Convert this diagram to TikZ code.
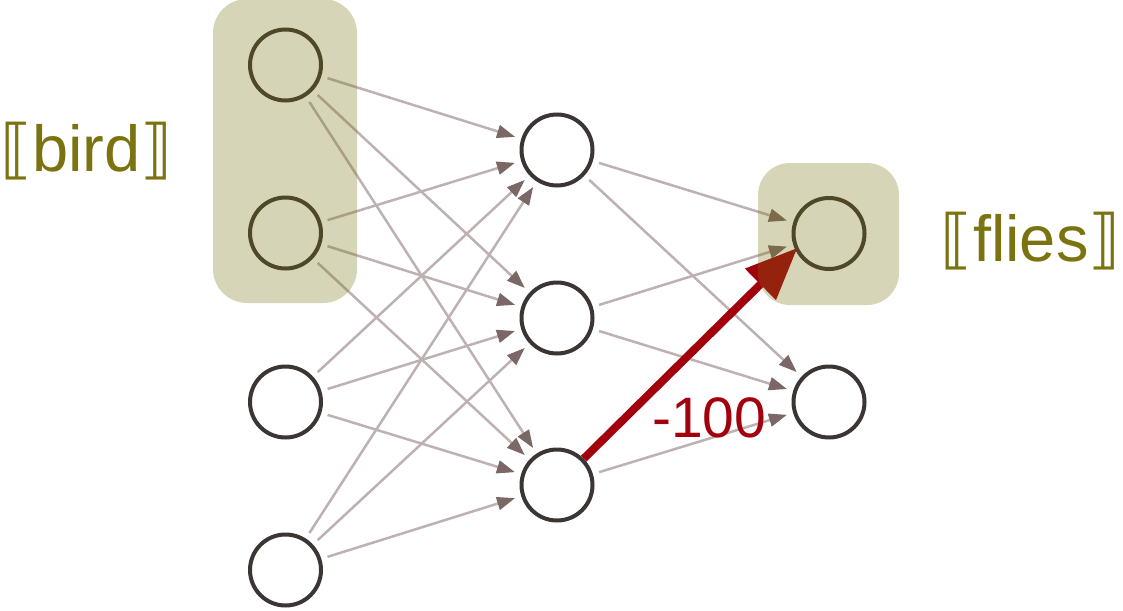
\documentclass[tikz,border=0pt]{standalone}
\usepackage{fontspec}
\setmainfont{Liberation Sans}
\newfontfamily\bracketfont{DejaVu Sans}
\usetikzlibrary{arrows.meta}
\definecolor{olivetext}{HTML}{7A7310}
\definecolor{edgegray}{HTML}{BDB1B1}
\definecolor{tipgray}{HTML}{7C6767}
\definecolor{ringdark}{HTML}{3B3633}
\definecolor{weightred}{HTML}{A2000C}
\tikzset{
  unit/.style={circle, draw=ringdark, line width=4pt, fill=white,
    minimum size=71pt, inner sep=0pt},
  edge/.style={draw=edgegray, line width=2.5pt, shorten <=6.5pt, shorten >=6.5pt,
    -{Triangle[length=18pt,width=13pt,color=tipgray]}},
  strong/.style={draw=weightred, line width=8pt, shorten >=-3pt,
    -{Triangle[length=52pt,width=42pt]}},
  focus/.style={fill=olivetext, fill opacity=0.3, rounded corners=34pt},
  concept/.style={text=olivetext, font=\fontsize{65}{78}\selectfont,
    inner sep=0pt, anchor=base west},
}
\newcommand{\lsem}{{\bracketfont ⟦}}
\newcommand{\rsem}{{\bracketfont ⟧}}
\begin{document}
\begin{tikzpicture}[x=1pt,y=-1pt]
  \useasboundingbox (0,0) rectangle (1123,610);

  % input layer
  \node[unit] (i1) at (285.5,65) {};
  \node[unit] (i2) at (285.5,233) {};
  \node[unit] (i3) at (285.5,402) {};
  \node[unit] (i4) at (285.5,570) {};
  % hidden layer
  \node[unit] (h1) at (557,150) {};
  \node[unit] (h2) at (557,318) {};
  \node[unit] (h3) at (557,485) {};
  % output layer
  \node[unit] (o1) at (829,233.5) {};
  \node[unit] (o2) at (829,402) {};

  % connections
  \foreach \a in {i1,i2,i3,i4}
    \foreach \b in {h1,h2,h3}
      \draw[edge] (\a) -- (\b);
  \foreach \a/\b in {h1/o1,h1/o2,h2/o1,h2/o2,h3/o2}
    \draw[edge] (\a) -- (\b);

  % the strongly weighted connection
  \draw[strong] (h3) -- (o1.206);
  \node[text=weightred, font=\fontsize{57}{68}\selectfont, inner sep=0pt,
    anchor=base west] (w) at (652,437) {-100};

  % concept regions
  \fill[focus] (213,-1) rectangle (357,303);
  \fill[focus, rounded corners=32pt] (758,163) rectangle (899,305);

  \node[concept] (bird) at (0,171) {\lsem bird\rsem};
  \node[concept, anchor=base east] (flies) at (1121,261) {\lsem flies\rsem};
\end{tikzpicture}
\end{document}
